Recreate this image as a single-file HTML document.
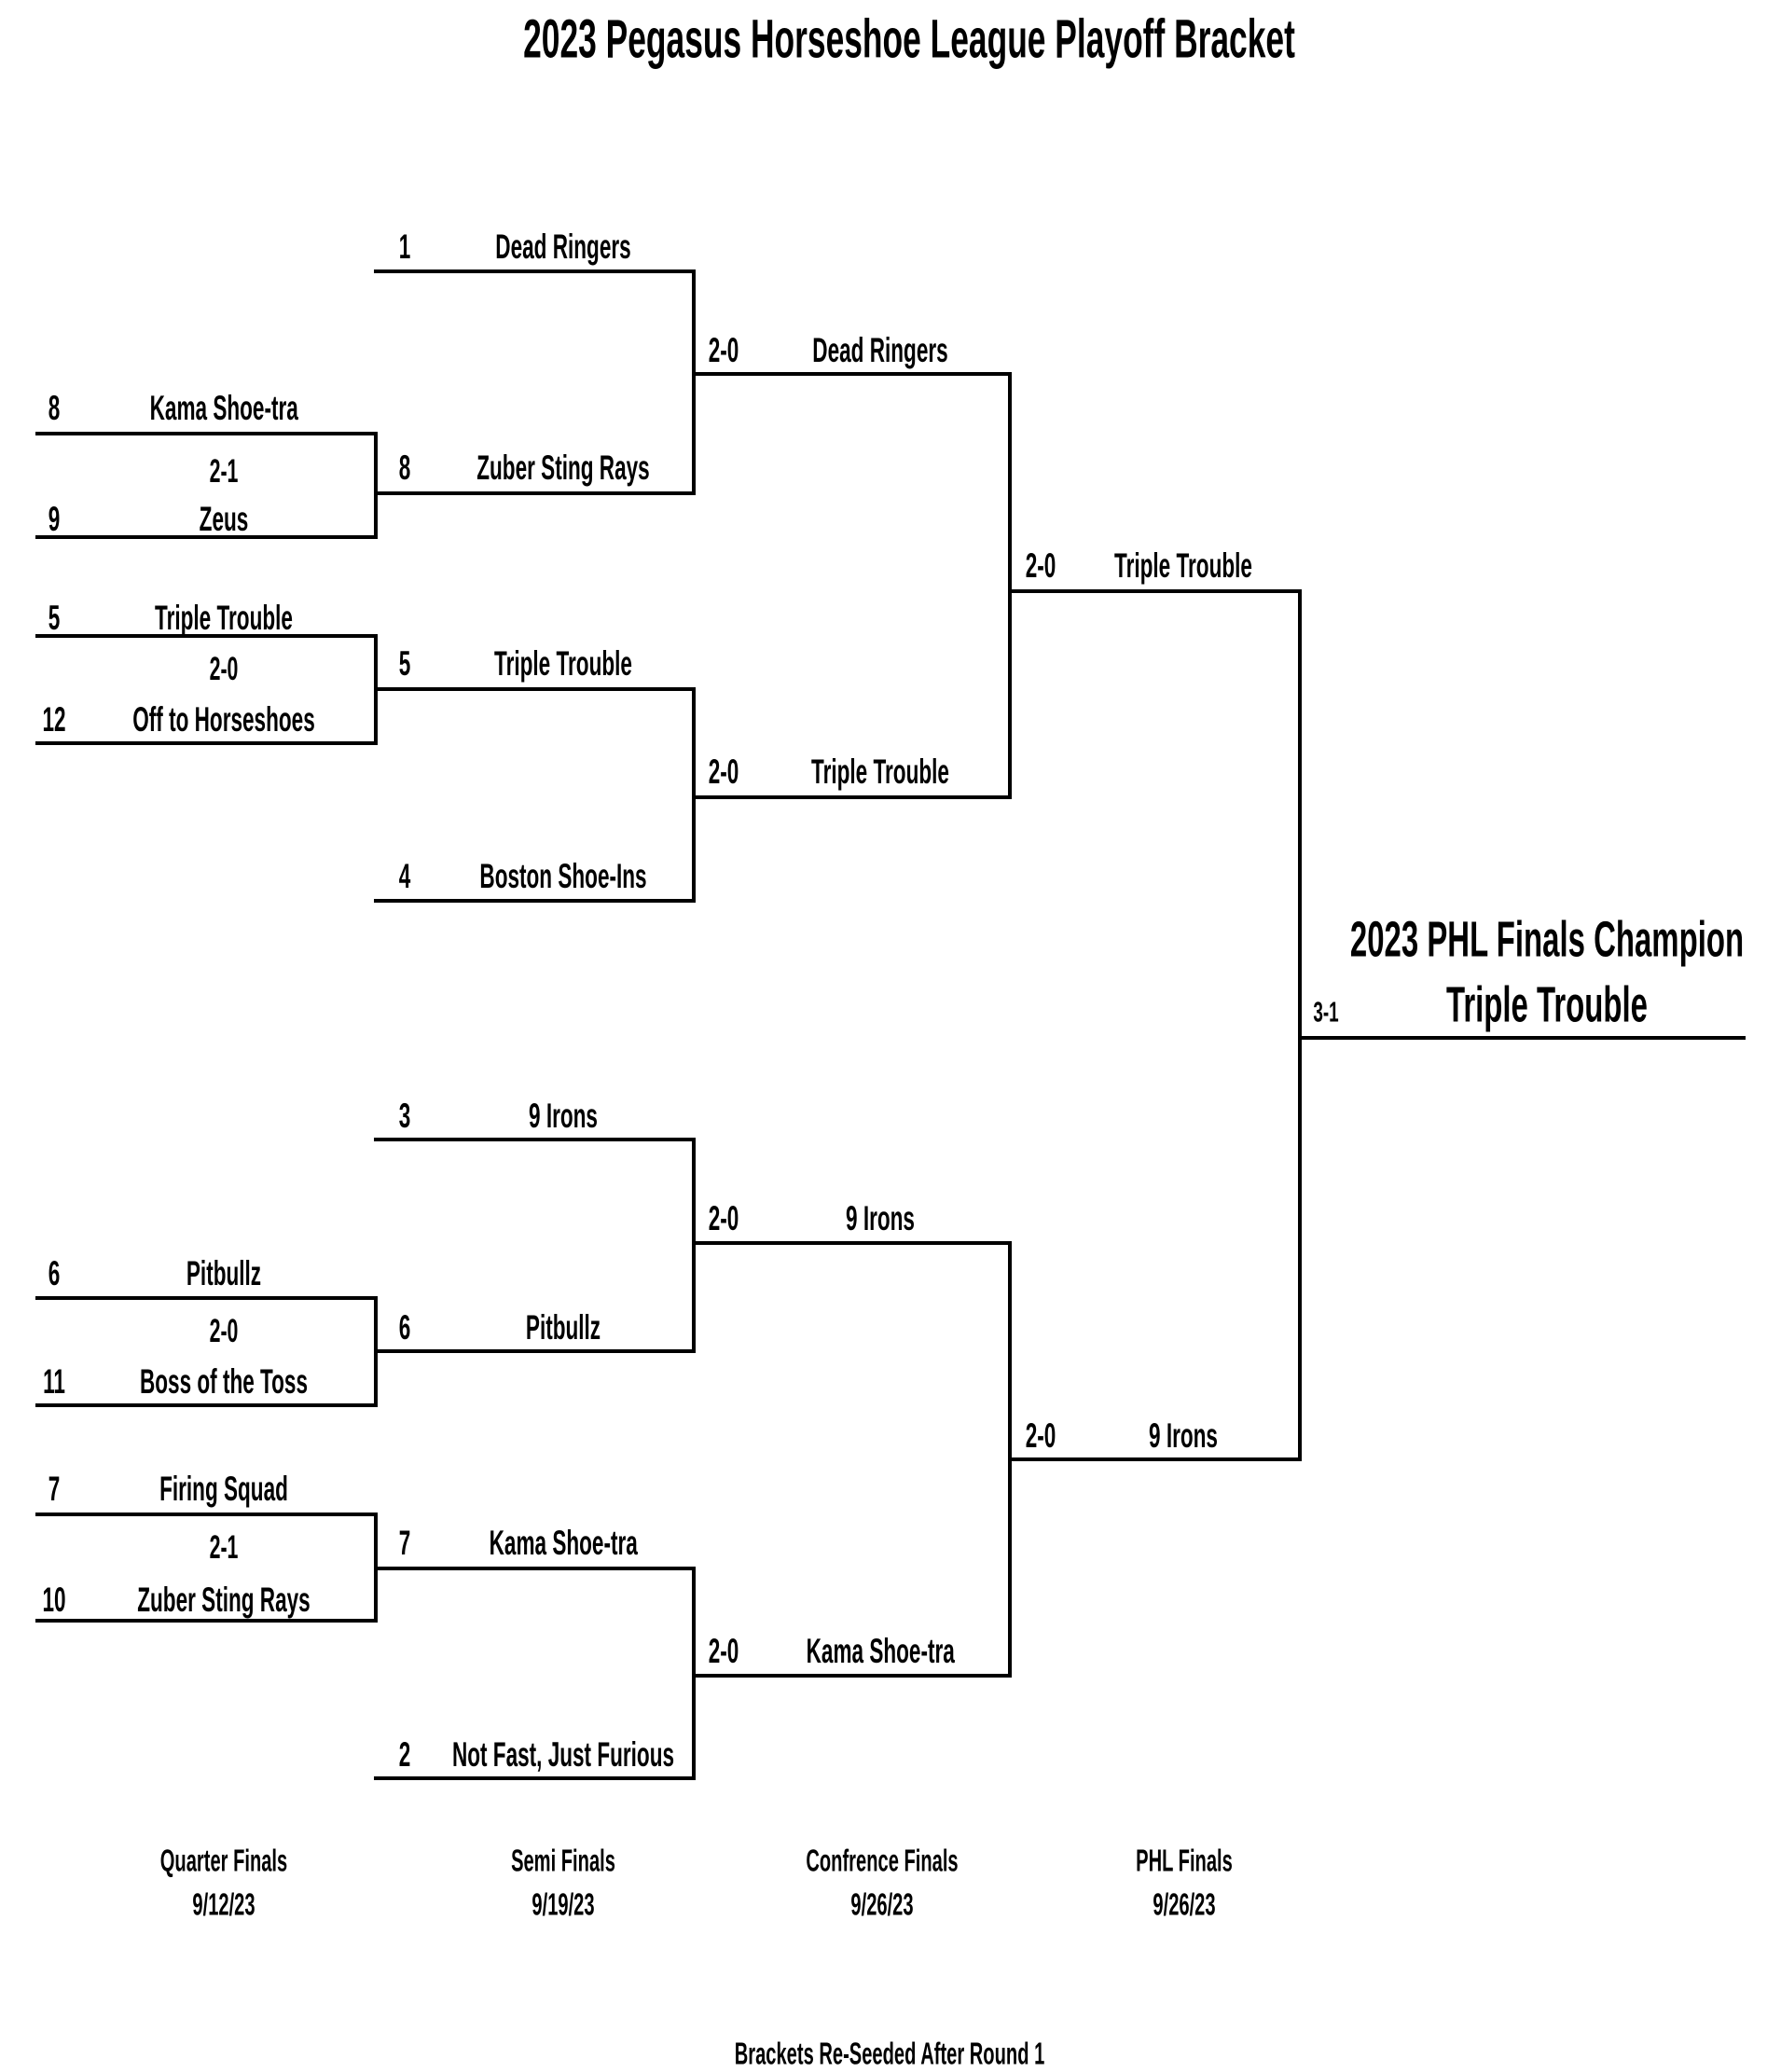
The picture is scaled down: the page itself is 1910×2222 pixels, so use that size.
<!DOCTYPE html>
<html><head><meta charset="utf-8"><style>
html,body{margin:0;padding:0;background:#fff;}
svg{display:block}
text{font-family:"Liberation Sans",sans-serif;font-weight:bold;fill:#000;text-anchor:middle;dominant-baseline:central;transform-box:fill-box;transform-origin:center;transform:scaleX(0.61);}
.n{font-size:37px;}
.s{font-size:35px;}
</style></head><body>
<svg width="1910" height="2222" viewBox="0 0 1910 2222" xmlns="http://www.w3.org/2000/svg">
<g stroke="#000" stroke-width="4" fill="none" stroke-linecap="square">
<path d="M40 465H403V576H40"/>
<path d="M40 797H403V682H40"/>
<path d="M40 1392H403V1507H40"/>
<path d="M40 1624H403V1738H40"/>
<path d="M403 291H744V529H403"/>
<path d="M403 739H744V966H403"/>
<path d="M403 1222H744V1449H403"/>
<path d="M403 1682H744V1907H403"/>
<path d="M744 401H1083V855H744"/>
<path d="M744 1333H1083V1797H744"/>
<path d="M1083 634H1394V1565H1083"/>
<path d="M1394 1113H1870"/>
</g>
<text x="975" y="43" style="font-size:58px">2023 Pegasus Horseshoe League Playoff Bracket</text>

<g class="n">
<text x="58" y="438">8</text><text x="240" y="438">Kama Shoe-tra</text>
<text x="240" y="506" class="s">2-1</text>
<text x="58" y="557">9</text><text x="240" y="557">Zeus</text>
<text x="58" y="663">5</text><text x="240" y="663">Triple Trouble</text>
<text x="240" y="718" class="s">2-0</text>
<text x="58" y="772">12</text><text x="240" y="772">Off to Horseshoes</text>
<text x="58" y="1366">6</text><text x="240" y="1366">Pitbullz</text>
<text x="240" y="1428" class="s">2-0</text>
<text x="58" y="1482">11</text><text x="240" y="1482">Boss of the Toss</text>
<text x="58" y="1597">7</text><text x="240" y="1597">Firing Squad</text>
<text x="240" y="1660" class="s">2-1</text>
<text x="58" y="1716">10</text><text x="240" y="1716">Zuber Sting Rays</text>

<text x="434" y="265">1</text><text x="604" y="265">Dead Ringers</text>
<text x="434" y="502">8</text><text x="604" y="502">Zuber Sting Rays</text>
<text x="434" y="712">5</text><text x="604" y="712">Triple Trouble</text>
<text x="434" y="940">4</text><text x="604" y="940">Boston Shoe-Ins</text>
<text x="434" y="1197">3</text><text x="604" y="1197">9 Irons</text>
<text x="434" y="1424">6</text><text x="604" y="1424">Pitbullz</text>
<text x="434" y="1655">7</text><text x="604" y="1655">Kama Shoe-tra</text>
<text x="434" y="1882">2</text><text x="604" y="1882">Not Fast, Just Furious</text>

<text x="776" y="376">2-0</text><text x="944" y="376">Dead Ringers</text>
<text x="776" y="828">2-0</text><text x="944" y="828">Triple Trouble</text>
<text x="776" y="1307">2-0</text><text x="944" y="1307">9 Irons</text>
<text x="776" y="1771">2-0</text><text x="944" y="1771">Kama Shoe-tra</text>

<text x="1116" y="607">2-0</text><text x="1269" y="607">Triple Trouble</text>
<text x="1116" y="1540">2-0</text><text x="1269" y="1540">9 Irons</text>
</g>
<text x="1659" y="1008" style="font-size:54px">2023 PHL Finals Champion</text>
<text x="1659" y="1078" style="font-size:54px">Triple Trouble</text>
<text x="1422" y="1086" style="font-size:31px">3-1</text>

<g style="font-size:33px">
<text x="240" y="1995">Quarter Finals</text><text x="240" y="2042">9/12/23</text>
<text x="604" y="1995">Semi Finals</text><text x="604" y="2042">9/19/23</text>
<text x="946" y="1995">Confrence Finals</text><text x="946" y="2042">9/26/23</text>
<text x="1270" y="1995">PHL Finals</text><text x="1270" y="2042">9/26/23</text>
<text x="954" y="2202">Brackets Re-Seeded After Round 1</text>
</g>
</svg>
</body></html>
